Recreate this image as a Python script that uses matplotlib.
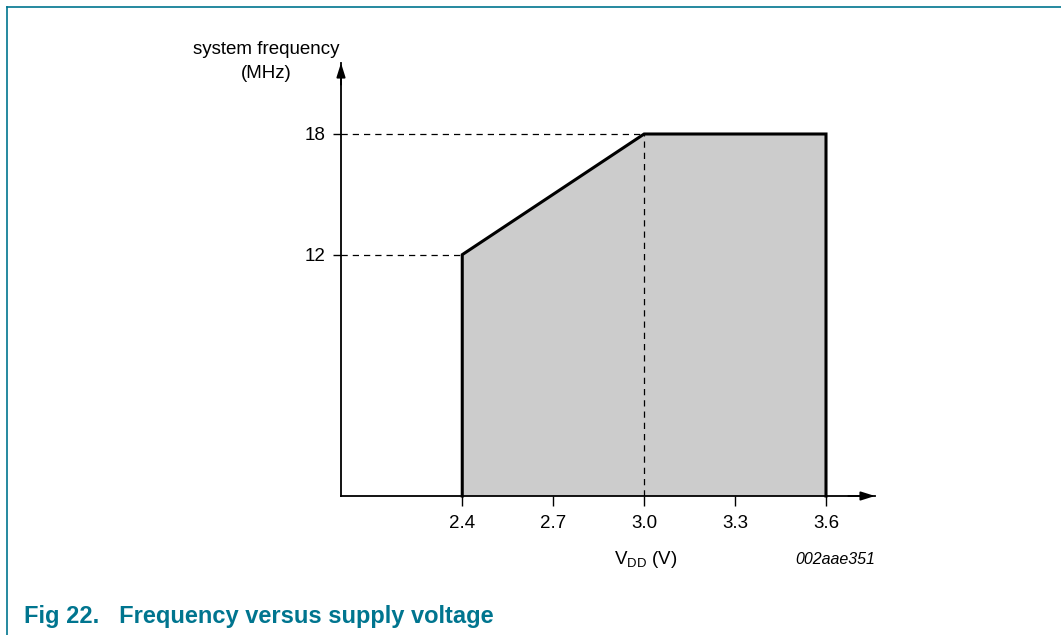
import matplotlib.pyplot as plt
from matplotlib.lines import Line2D

plt.rcParams['font.family'] = ['Liberation Sans', 'DejaVu Sans']

# operating area: supply voltage (V) vs max system frequency (MHz)
vdd = [2.4, 2.4, 3.0, 3.6, 3.6]
freq = [0, 12, 18, 18, 0]
xticks = [2.4, 2.7, 3.0, 3.3, 3.6]
xtick_labels = ['2.4', '2.7', '3.0', '3.3', '3.6']
yticks = [12, 18]
ytick_labels = ['12', '18']

W, H = 1061, 635
fig = plt.figure(figsize=(W / 100, H / 100), dpi=100)

# teal frame lines at top and left
teal = '#00758f'
fig.add_artist(Line2D([7 / W, 7 / W], [0, 1 - 7 / H], color=teal, lw=1.2))
fig.add_artist(Line2D([7 / W, 1], [1 - 7 / H, 1 - 7 / H], color=teal, lw=1.2))

# axes placed so that 2.0 V / 0 MHz sits at pixel (341, 496)
x0, y0, x1, y1 = 341, 496, 875, 63
ax = fig.add_axes([x0 / W, 1 - y0 / H, (x1 - x0) / W, (y0 - y1) / H])
px_per_v = (826 - 341) / 1.6
px_per_mhz = (496 - 134) / 18
ax.set_xlim(2.0, 2.0 + (x1 - x0) / px_per_v)
ax.set_ylim(0, (y0 - y1) / px_per_mhz)

ax.fill(vdd, freq, color='#cccccc', lw=0, zorder=1)
ax.plot(vdd, freq, color='black', lw=2.2, zorder=3,
        solid_joinstyle='miter', clip_on=False)

dash = (0, (5, 4))
ax.plot([2.0, 3.0], [18, 18], color='black', lw=0.9, linestyle=dash, zorder=2)
ax.plot([2.0, 2.4], [12, 12], color='black', lw=0.9, linestyle=dash, zorder=2)
ax.plot([3.0, 3.0], [0, 18], color='black', lw=0.9, linestyle=dash, zorder=2)

for s in ['top', 'right']:
    ax.spines[s].set_visible(False)
for s in ['left', 'bottom']:
    ax.spines[s].set_linewidth(1.3)
    ax.spines[s].set_zorder(4)

# arrow heads at the ends of both axes
arrow = dict(arrowstyle='-|>,head_length=0.7,head_width=0.22', color='black',
             lw=1.3, mutation_scale=12, shrinkA=0, shrinkB=0)
ax.annotate('', xy=(1, 0), xytext=(0.95, 0), xycoords='axes fraction',
            arrowprops=arrow, zorder=5, annotation_clip=False)
ax.annotate('', xy=(0, 1), xytext=(0, 0.95), xycoords='axes fraction',
            arrowprops=arrow, zorder=5, annotation_clip=False)

ax.set_xticks(xticks)
ax.set_xticklabels(xtick_labels)
ax.set_yticks(yticks)
ax.set_yticklabels(ytick_labels)
ax.tick_params(axis='x', direction='out', length=7, width=1, labelsize=13.5, pad=7)
ax.tick_params(axis='y', direction='out', length=6, width=1, labelsize=13.5, pad=5)

fig.text(266 / W, 1 - 50 / H, 'system frequency', ha='center', va='center', fontsize=13.5)
fig.text(266 / W, 1 - 73 / H, '(MHz)', ha='center', va='center', fontsize=13.5)
fig.text(646 / W, 1 - 560 / H, r'V$_{\mathregular{DD}}$ (V)', ha='center', va='center',
         fontsize=13.5)
fig.text(875 / W, 1 - 560 / H, '002aae351', ha='right', va='center', fontsize=11.5,
         style='italic')
fig.text(24 / W, 1 - 616 / H, 'Fig 22.   Frequency versus supply voltage', ha='left',
         va='center', fontsize=17, fontweight='bold', color=teal)

fig.savefig('out.png', dpi=100)
